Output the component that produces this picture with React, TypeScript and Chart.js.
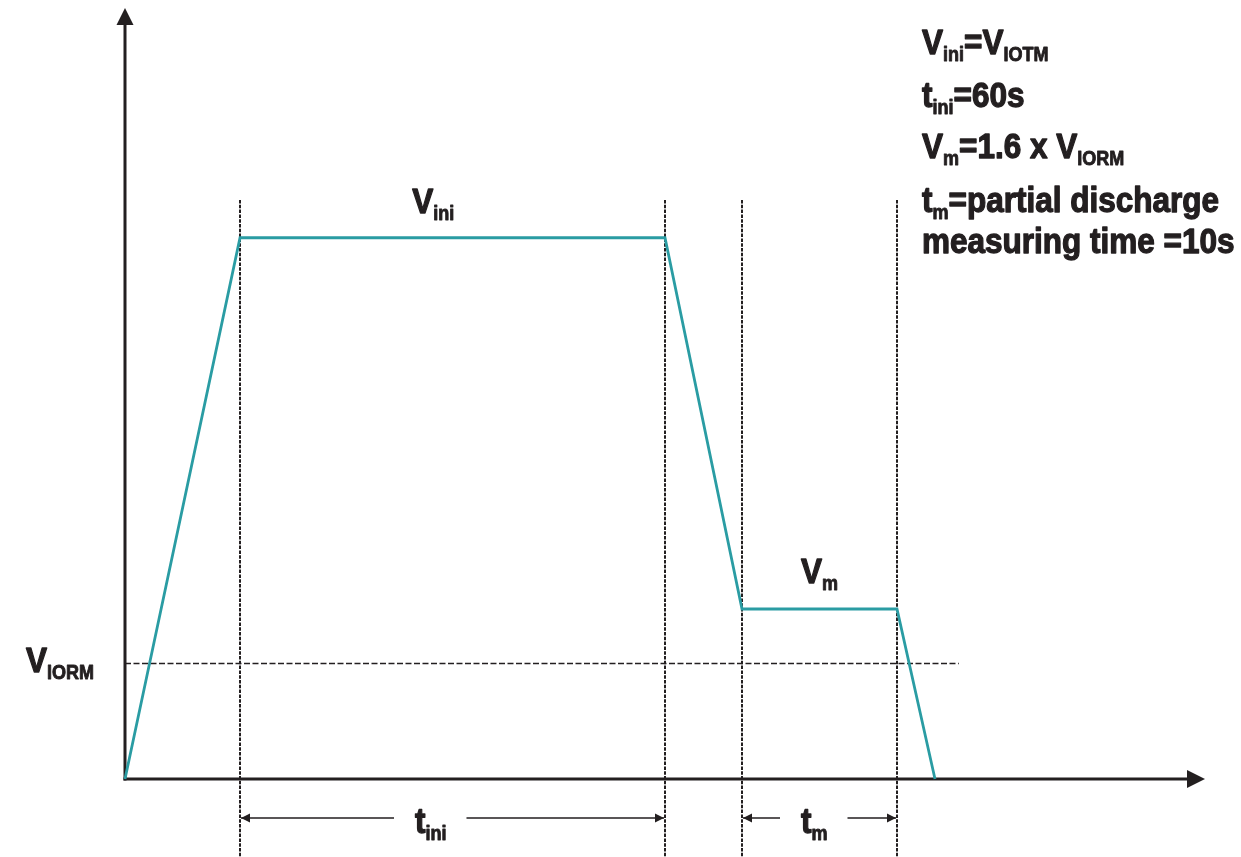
import React, { useEffect, useRef } from "react";
import { Chart, registerables } from "chart.js";

Chart.register(...registerables);

// ---- data (arbitrary units: time 0..100, voltage 0..100) ----
const times = [0, 10.65, 50.0, 57.13, 71.48, 75.0];
const voltages = [0, 70.2, 70.2, 22.05, 22.05, 0];
const markerTimes = [10.65, 50.0, 57.13, 71.48];
const markerTop = 75.1;
const vIorm = 15.05;
const vIormEnd = 77.2;
const spanTIni = [10.65, 50.0];
const spanTm = [57.13, 71.48];

type Seg = { t: string; s?: boolean };

const notes: Seg[][] = [
  [{ t: "V" }, { t: "ini", s: true }, { t: "=V" }, { t: "IOTM", s: true }],
  [{ t: "t" }, { t: "ini", s: true }, { t: "=60s" }],
  [{ t: "V" }, { t: "m", s: true }, { t: "=1.6 x V" }, { t: "IORM", s: true }],
  [{ t: "t" }, { t: "m", s: true }, { t: "=partial discharge" }],
  [{ t: "measuring time =10s" }],
];
const noteBaselineOffsets = [0, 53, 104, 158, 199];

const lblVini: Seg[] = [{ t: "V" }, { t: "ini", s: true }];
const lblVm: Seg[] = [{ t: "V" }, { t: "m", s: true }];
const lblViorm: Seg[] = [{ t: "V" }, { t: "IORM", s: true }];
const lblTini: Seg[] = [{ t: "t" }, { t: "ini", s: true }];
const lblTm: Seg[] = [{ t: "t" }, { t: "m", s: true }];

const TEAL = "#2a9ca3";
const INK = "#231f20";
const FONT = "'Liberation Sans', Arial, sans-serif";
const SX = 0.9;

function segFont(s?: boolean) {
  return s ? `bold 20px ${FONT}` : `bold 35px ${FONT}`;
}
function richWidth(ctx: CanvasRenderingContext2D, segs: Seg[]) {
  let w = 0;
  for (const sg of segs) {
    ctx.font = segFont(sg.s);
    w += ctx.measureText(sg.t).width;
  }
  return w * SX;
}
function drawRich(ctx: CanvasRenderingContext2D, segs: Seg[], x: number, y: number) {
  ctx.save();
  ctx.translate(x, y);
  ctx.scale(SX, 1);
  ctx.fillStyle = INK;
  ctx.strokeStyle = INK;
  ctx.lineJoin = "round";
  ctx.textBaseline = "alphabetic";
  ctx.textAlign = "left";
  let cx = 0;
  for (const sg of segs) {
    ctx.font = segFont(sg.s);
    const dy = sg.s ? 7 : 0;
    ctx.lineWidth = sg.s ? 0.9 : 1.3;
    ctx.fillText(sg.t, cx, dy);
    ctx.strokeText(sg.t, cx, dy);
    cx += ctx.measureText(sg.t).width;
  }
  ctx.restore();
}

function arrowHead(ctx: CanvasRenderingContext2D, tipX: number, tipY: number, dx: number, dy: number, len: number, half: number) {
  const bx = tipX - dx * len;
  const by = tipY - dy * len;
  const px = -dy;
  const py = dx;
  ctx.beginPath();
  ctx.moveTo(tipX, tipY);
  ctx.lineTo(bx + px * half, by + py * half);
  ctx.lineTo(bx - px * half, by - py * half);
  ctx.closePath();
  ctx.fill();
}

const diagramPlugin = {
  id: "diagram",
  beforeDatasetsDraw(chart: any) {
    const { ctx, chartArea, scales } = chart;
    const x = scales.x;
    const y = scales.y;
    const H = chart.height;
    ctx.save();
    ctx.strokeStyle = INK;
    ctx.fillStyle = INK;

    // vertical dashed markers
    ctx.lineWidth = 2;
    ctx.setLineDash([3.5, 1.3]);
    for (const t of markerTimes) {
      const px = Math.round(x.getPixelForValue(t));
      ctx.beginPath();
      ctx.moveTo(px, y.getPixelForValue(markerTop));
      ctx.lineTo(px, H);
      ctx.stroke();
    }
    // V_IORM dashed
    ctx.lineWidth = 1.6;
    ctx.setLineDash([6, 2.5]);
    const yi = Math.round(y.getPixelForValue(vIorm)) + 0.5;
    ctx.beginPath();
    ctx.moveTo(x.getPixelForValue(0), yi);
    ctx.lineTo(x.getPixelForValue(vIormEnd), yi);
    ctx.stroke();
    ctx.setLineDash([]);

    // axes
    const ox = x.getPixelForValue(0);
    const oy = y.getPixelForValue(0);
    ctx.lineWidth = 3;
    ctx.beginPath();
    ctx.moveTo(ox, oy + 1.5);
    ctx.lineTo(ox, chartArea.top + 12);
    ctx.stroke();
    ctx.beginPath();
    ctx.moveTo(ox - 1.5, oy);
    ctx.lineTo(chartArea.right - 12, oy);
    ctx.stroke();
    arrowHead(ctx, ox, chartArea.top, 0, -1, 17, 8.5);
    arrowHead(ctx, chartArea.right, oy, 1, 0, 18, 9);

    // dimension arrows
    const dimY = oy + 39;
    ctx.lineWidth = 1.6;
    const spans: [number[], Seg[]][] = [
      [spanTIni, lblTini],
      [spanTm, lblTm],
    ];
    const textLeft = [415, 801];
    spans.forEach(([sp, lbl], i) => {
      const a = x.getPixelForValue(sp[0]) + 1;
      const b = x.getPixelForValue(sp[1]) - 1;
      const w = richWidth(ctx, lbl);
      const tl = textLeft[i];
      const gapL = tl - 21;
      const gapR = tl + w + 20;
      ctx.beginPath();
      ctx.moveTo(a, dimY);
      ctx.lineTo(gapL, dimY);
      ctx.moveTo(gapR, dimY);
      ctx.lineTo(b, dimY);
      ctx.stroke();
      arrowHead(ctx, a, dimY, -1, 0, 9, 4.5);
      arrowHead(ctx, b, dimY, 1, 0, 9, 4.5);
      drawRich(ctx, lbl, tl, dimY + 15);
    });
    ctx.restore();
  },
  afterDatasetsDraw(chart: any) {
    const { ctx, scales } = chart;
    const x = scales.x;
    const y = scales.y;
    ctx.save();
    drawRich(ctx, lblVini, x.getPixelForValue(26.6), y.getPixelForValue(voltages[1]) - 25);
    drawRich(ctx, lblVm, x.getPixelForValue(62.6), y.getPixelForValue(voltages[3]) - 26);
    drawRich(ctx, lblViorm, 26, y.getPixelForValue(vIorm) + 9);
    const nx = x.getPixelForValue(73.8);
    const ny = 54;
    notes.forEach((segs, i) => drawRich(ctx, segs, nx, ny + noteBaselineOffsets[i]));
    ctx.restore();
  },
};

export default function App() {
  const ref = useRef<HTMLCanvasElement | null>(null);
  useEffect(() => {
    if (!ref.current) return;
    const chart = new Chart(ref.current, {
      type: "line",
      data: {
        datasets: [
          {
            data: times.map((t, i) => ({ x: t, y: voltages[i] })),
            borderColor: TEAL,
            borderWidth: 2.8,
            pointRadius: 0,
            tension: 0,
            fill: false,
            clip: false as any,
          },
        ],
      },
      options: {
        animation: false,
        responsive: true,
        maintainAspectRatio: false,
        events: [],
        layout: { padding: { left: 125, right: 36, top: 8, bottom: 78 } },
        scales: {
          x: { type: "linear", min: 0, max: 100, display: false },
          y: { type: "linear", min: 0, max: 100, display: false },
        },
        plugins: {
          legend: { display: false },
          tooltip: { enabled: false },
        },
      },
      plugins: [diagramPlugin],
    });
    return () => chart.destroy();
  }, []);
  return (
    <div style={{ position: "fixed", left: 0, top: 0, width: 1241, height: 857, background: "#fff" }}>
      <canvas ref={ref} />
    </div>
  );
}
